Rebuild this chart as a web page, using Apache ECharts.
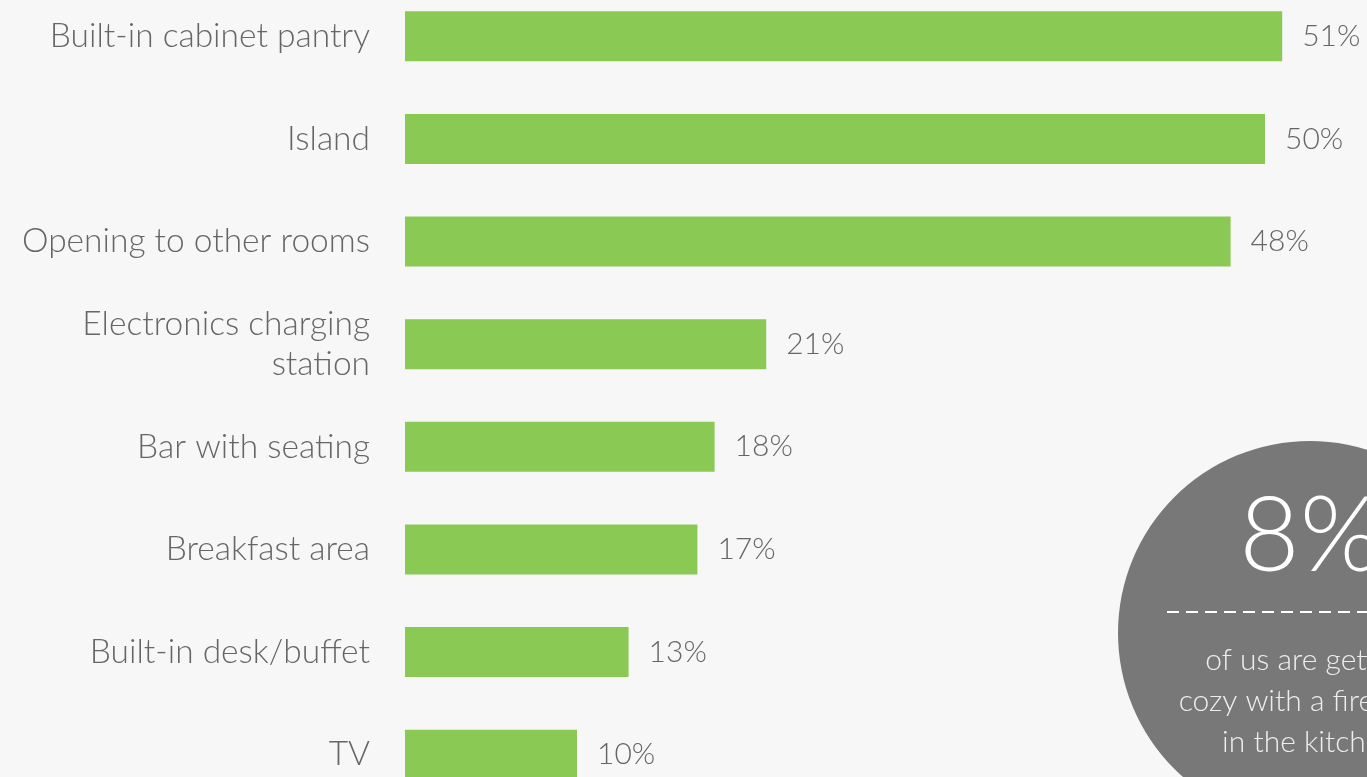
<!DOCTYPE html>
<html>
<head>
<meta charset="utf-8">
<script src="https://cdn.jsdelivr.net/npm/echarts@6/dist/echarts.min.js"></script>
<style>
  html, body { margin: 0; padding: 0; background: #f7f7f7; }
  #main { width: 1367px; height: 777px; }
</style>
</head>
<body>
<div id="main"></div>
<script>
// kitchen features (share of respondents, %)
const categories = [
  'Built-in cabinet pantry',
  'Island',
  'Opening to other rooms',
  'Electronics charging\nstation',
  'Bar with seating',
  'Breakfast area',
  'Built-in desk/buffet',
  'TV'
]
const values = [51, 50, 48, 21, 18, 17, 13, 10]
const calloutValue = '8%'
const calloutText = 'of us are getting\ncozy with a fireplace\nin the kitchen'

const font = 'Lato, "Open Sans", sans-serif'
const chart = echarts.init(document.getElementById('main'))

chart.setOption({
  backgroundColor: '#f7f7f7',
  animation: false,
  grid: {
    left: 405,
    top: -15,
    width: 1032,
    height: 821,
    outerBoundsMode: 'none',
    containLabel: false
  },
  xAxis: {
    type: 'value',
    min: 0,
    max: 60,
    show: false
  },
  yAxis: {
    type: 'category',
    data: categories,
    inverse: true,
    axisLine: { show: false },
    axisTick: { show: false },
    axisLabel: {
      margin: 35,
      color: '#666',
      fontFamily: font,
      fontWeight: 300,
      fontSize: 33.5,
      lineHeight: 40,
      padding: [6, 0, 0, 0]
    }
  },
  series: [
    {
      type: 'bar',
      data: values,
      barWidth: 50,
      itemStyle: { color: '#8bc955' },
      label: {
        show: true,
        position: 'right',
        distance: 20,
        formatter: '{c}%',
        color: '#666',
        fontFamily: font,
        fontWeight: 300,
        fontSize: 30,
        padding: [6, 0, 0, 0]
      }
    }
  ],
  graphic: [
    {
      type: 'circle',
      shape: { cx: 1310, cy: 633, r: 192 },
      style: { fill: '#787878' },
      z: 10
    },
    {
      type: 'text',
      x: 1310,
      y: 537,
      style: {
        text: calloutValue,
        fill: '#fff',
        font: '300 104px ' + font,
        textAlign: 'center',
        textVerticalAlign: 'middle'
      },
      z: 11
    },
    {
      type: 'line',
      shape: { x1: 1167, y1: 612, x2: 1453, y2: 612 },
      style: { stroke: '#fff', lineWidth: 2, lineDash: [12, 7] },
      z: 11
    },
    {
      type: 'text',
      x: 1310,
      y: 701,
      style: {
        text: calloutText,
        fill: '#eee',
        font: '300 30px ' + font,
        lineHeight: 41,
        textAlign: 'center',
        textVerticalAlign: 'middle'
      },
      z: 11
    }
  ]
})
</script>
</body>
</html>
